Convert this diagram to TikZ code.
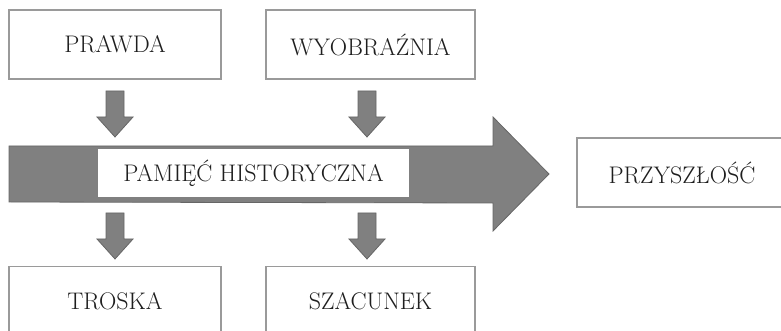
\documentclass[tikz,border=0pt]{standalone}
\usepackage{fontspec}
\definecolor{arrowfill}{HTML}{808080}
\definecolor{arrowline}{HTML}{666666}
\definecolor{boxline}{HTML}{9A9A9A}
\definecolor{txt}{HTML}{1E1E1E}
\begin{document}
\begin{tikzpicture}[x=1pt,y=1pt,
  tbox/.style={draw=boxline, line width=1.4pt, fill=white, text=txt,
    minimum height=69pt, inner sep=0pt, font=\fontsize{24}{28}\selectfont},
  arrowshape/.style={draw=arrowline, fill=arrowfill, line width=0.8pt, line join=miter},
]
\useasboundingbox (0,0) rectangle (781,331);
\fill[white] (0,0) rectangle (781,331);
% boxes
\node[tbox, minimum width=212pt] (prawda) at (115,286.5) {PRAWDA};
\node[tbox, minimum width=209pt] (wyob) at (370.5,286.5) {WYOBRAŹNIA};
\node[tbox, minimum width=212pt] (troska) at (115,30) {TROSKA};
\node[tbox, minimum width=209pt] (szac) at (370.5,30) {SZACUNEK};
\node[tbox, minimum width=210pt] (przy) at (682,158.5) {PRZYSZŁOŚĆ};
% big arrow
\coordinate (bigtail) at (9,157);
\draw[arrowshape] (bigtail) ++(0,28) -- ++(484,0) -- ++(0,29) -- (549,157) -- (493,100) -- ++(0,28) -- (9,129) -- cycle;
\node[tbox, minimum width=311pt, minimum height=48pt, draw=none] (pam) at (253.5,158) {PAMIĘĆ HISTORYCZNA};
% small arrows
\foreach \n/\cx/\ty in {a1/115/240, a2/367/240, a3/115/118, a4/367/118}{
  \coordinate (\n) at (\cx,\ty);
  \draw[arrowshape] (\n) ++(-9,0) -- ++(18,0) -- ++(0,-26) -- ++(9,0) -- ++(-18,-20) -- ++(-18,20) -- ++(9,0) -- cycle;
}
\end{tikzpicture}
\end{document}
